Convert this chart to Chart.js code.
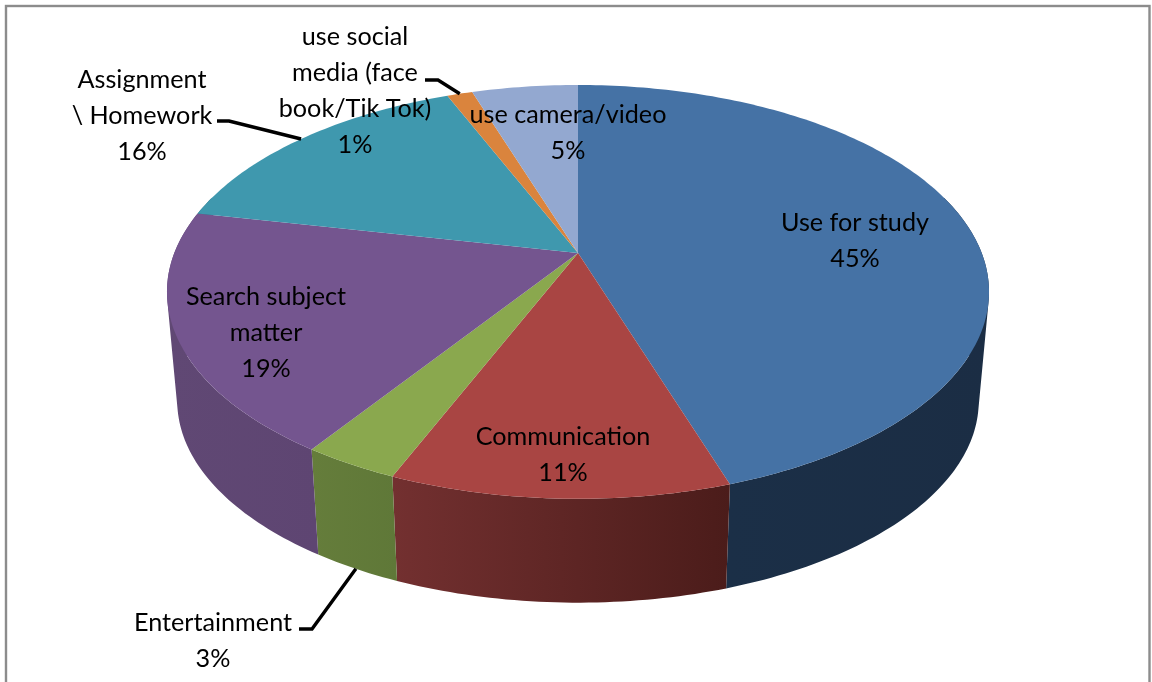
<!DOCTYPE html>
<html><head><meta charset="utf-8">
<style>html,body{margin:0;padding:0;background:#fff;overflow:hidden}#w{position:relative;width:1152px;height:682px}canvas{display:block}</style>
<script src="https://cdn.jsdelivr.net/npm/chart.js@4/dist/chart.umd.js"></script>
</head><body><div id="w"><canvas id="c" width="1152" height="682"></canvas></div>
<script>
const categories = ['Use for study','Communication','Entertainment','Search subject matter','Assignment \\ Homework','use social media (face book/Tik Tok)','use camera/video'];
const values = [45,11.2,3.2,18.9,15.5,1.2,5];
const percentLabels = ['45%','11%','3%','19%','16%','1%','5%'];
const topColors = ['#4572a5','#a94543','#8aa84e','#74558f','#3f98ae','#da843d','#93a8d0'];
const sideColors = [['#1b2f47','#1b2d44'],['#733030','#4b1c1a'],['#657d3b','#5f7838'],['#604874','#5e4572'],['#2c6a7a','#2c6a7a'],['#985c2a','#985c2a'],['#667590','#667590']];
const labelLines = [['Use for study'],['Communication'],['Entertainment'],['Search subject','matter'],['Assignment','\\ Homework'],['use social','media (face','book/Tik Tok)'],['use camera/video']];
const labelCentres = [[855,223],[563,437],[213,623],[266,297],[142,80],[355,37],[568,115]];
const leaders = {2:[[299,629],[312,629]],4:[[217,121],[229,121]],5:[[425,80],[438,80]]};

// perspective of the pie's disc
const K=0.188, A=199.6, C=403.7, LOWER=0.975, DROP=110;
function project(el,theta,lower){
  const u=Math.cos(theta), v=Math.sin(theta), w=1-K*v;
  let x=C*u/w, y=A*v/w;
  if(lower){x*=LOWER;y=y*LOWER+DROP;}
  return [el.x+x, el.y+y];
}
function samples(a,b){const n=Math.max(2,Math.ceil((b-a)/(Math.PI/180)));const o=[];for(let i=0;i<=n;i++)o.push(a+(b-a)*i/n);return o;}
function addQuad(g,q){
  let area=0;
  q.forEach((p,i)=>{const r=q[(i+1)%4];area+=p[0]*r[1]-r[0]*p[1];});
  const o=area<0?q.slice().reverse():q;
  g.moveTo(o[0][0],o[0][1]);for(let i=1;i<4;i++)g.lineTo(o[i][0],o[i][1]);g.closePath();
}

const pie3d={id:'pie3d',
  beforeDraw(chart){
    const g=chart.ctx;g.save();g.fillStyle='#fff';g.fillRect(0,0,1152,682);
    g.strokeStyle='#8c8c8c';g.lineWidth=2.4;g.strokeRect(6,6,1143.5,690);
    g.restore();
  },
  beforeDatasetsDraw(chart){
    const g=chart.ctx, arcs=chart.getDatasetMeta(0).data;
    g.save();
    arcs.forEach((el,i)=>{
      const pts=samples(el.startAngle,el.endAngle).filter(t=>Math.sin(t)>-0.3);
      if(pts.length<2)return;
      const top=pts.map(t=>project(el,t,false)),low=pts.map(t=>project(el,t,true));
      const xs=top.concat(low).map(p=>p[0]);
      const gr=g.createLinearGradient(Math.min(...xs),0,Math.max(...xs),0);
      gr.addColorStop(0,sideColors[i][0]);gr.addColorStop(1,sideColors[i][1]);
      g.fillStyle=gr;g.beginPath();
      for(let j=0;j<pts.length-1;j++)addQuad(g,[top[j],top[j+1],low[j+1],low[j]]);
      g.fill();
    });
    arcs.forEach((el,i)=>{
      g.fillStyle=topColors[i];g.beginPath();g.moveTo(el.x,el.y);
      samples(el.startAngle,el.endAngle).forEach(t=>{const p=project(el,t,false);g.lineTo(p[0],p[1]);});
      g.closePath();g.fill();
    });
    g.restore();
    return false;
  },
  afterDraw(chart){
    const g=chart.ctx, arcs=chart.getDatasetMeta(0).data;
    g.save();
    g.strokeStyle='#000';g.lineWidth=3.4;g.lineJoin='miter';
    Object.keys(leaders).forEach(k=>{
      const el=arcs[k], mid=(el.startAngle+el.endAngle)/2, end=project(el,mid,+k===2);
      const l=leaders[k];
      g.beginPath();g.moveTo(l[0][0],l[0][1]);g.lineTo(l[1][0],l[1][1]);g.lineTo(end[0],end[1]);g.stroke();
    });
    g.fillStyle='#000';g.font='25.2px Lato';g.textAlign='center';g.textBaseline='middle';
    labelLines.forEach((lines,i)=>{
      const [x,y]=labelCentres[i];
      lines.concat(percentLabels[i]).forEach((s,j)=>g.fillText(s,x,y+j*36));
    });
    g.restore();
  }
};

new Chart(document.getElementById('c'),{
  type:'pie',
  data:{labels:categories,datasets:[{data:values,backgroundColor:topColors,borderWidth:0}]},
  options:{responsive:false,animation:false,
    layout:{padding:{left:4,right:0,top:0,bottom:176}},
    plugins:{legend:{display:false},tooltip:{enabled:false},title:{display:false}}},
  plugins:[pie3d]
});
</script></body></html>
